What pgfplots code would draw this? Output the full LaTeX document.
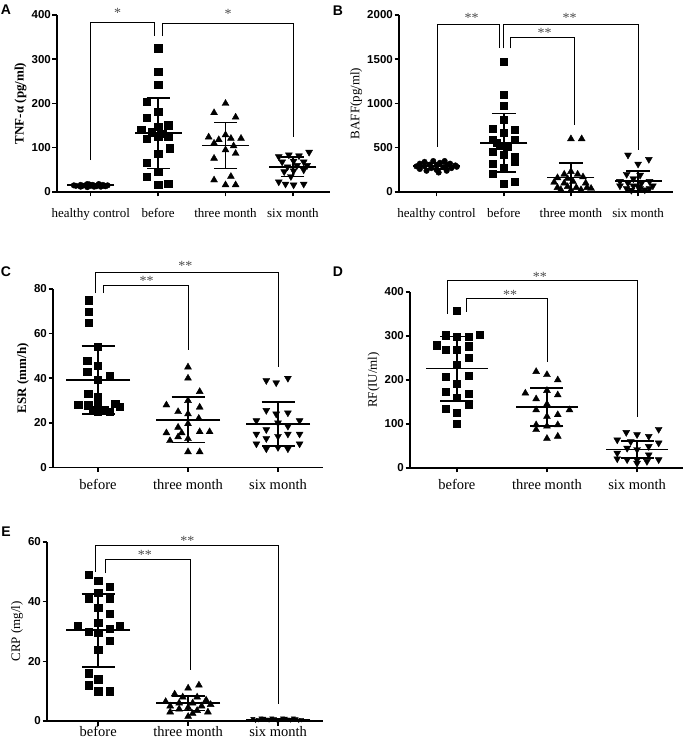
\documentclass[border=0pt]{standalone}
\usepackage{fontspec}
\setmainfont{Liberation Serif}
\setsansfont{Liberation Sans}
\usepackage{pgfplots}
\pgfplotsset{compat=1.18}

\tikzset{star/.style={font=\fontsize{14}{14}\selectfont, text=black!70, inner sep=0pt}}
\pgfplotsset{
  panel/.style={
    scale only axis, anchor=south west, clip=false,
    axis x line=bottom, axis y line=left,
    axis line style={line width=1.8pt,-},
    every tick/.style={black, line width=1.5pt},
    major tick length=4.5pt,
    tick align=outside,
    ymin=0,
    scaled y ticks=false,
    /pgf/number format/assume math mode=true,
    /pgf/number format/1000 sep={},
    yticklabel style={font=\sffamily\bfseries\fontsize{11.5}{12}\selectfont, inner sep=1.5pt},
    ylabel style={font=\fontsize{13}{14}\selectfont},
  },
  row1/.style={xticklabel style={font=\fontsize{13}{14}\selectfont, yshift=-8pt}},
  row2/.style={xticklabel style={font=\fontsize{14.5}{15}\selectfont, yshift=-3.5pt}},
  row3/.style={xticklabel style={font=\fontsize{14.5}{15}\selectfont, yshift=0pt, inner sep=1pt}},
  sq/.style={only marks, mark=square*, mark size=3.6pt, mark options={fill=black, draw=black}},
  tri/.style={only marks, mark=triangle*, mark size=4pt, mark options={fill=black, draw=black}},
  itri/.style={only marks, mark=triangle*, mark size=4pt, mark options={fill=black, draw=black, rotate=180}},
  dot/.style={only marks, mark=*, mark size=2.8pt, mark options={fill=black, draw=black}},
  msd/.style 2 args={only marks, mark=-, mark size=#1, mark options={line width=1.8pt, black},
    error bars/.cd, y dir=both, y explicit,
    error bar style={line width=1.8pt, black},
    error mark options={rotate=90, mark size=#2, line width=1.8pt, black}},
  brk/.style={no marks, sharp plot, line width=1pt, black},
}

\begin{document}
\begin{tikzpicture}
\useasboundingbox (0pt,0pt) rectangle (684pt,743pt);

% ---------------- A ----------------
\begin{axis}[panel, row1, at={(57pt,551pt)}, width=273pt, height=177pt,
  xmin=-0.5, xmax=3.55, ymax=400, ytick={0,100,200,300,400},
  xtick={0,1,2,3}, xticklabels={healthy control,before,three month,six month},
  ylabel={\bfseries TNF-α (pg/ml)}]
\addplot[dot] coordinates {(-0.22,14)(-0.15,16)(-0.15,12)(-0.08,15)(-0.05,18)(-0.05,11)(0,14)(0.03,16)(0.05,12)(0.1,15)(0.12,18)(0.15,12)(0.2,14)(0.25,15)(-0.25,15)(0.18,16)(-0.12,14)(0.08,13)(-0.02,17)(0.22,13)};
\addplot[sq] coordinates {(1,325)(1,272)(1,242)(0.83,204)(1,181)(0.83,167)(1.15,151)(1,148)(0.75,140)(0.9,135)(1.07,132)(0.83,121)(1,125)(1.15,125)(1.17,99)(1,86)(0.83,66)(1,46)(0.83,35)(1,16)(1.15,18)};
\addplot[tri] coordinates {(2,200)(1.83,179)(2.15,169)(1.75,124)(2,129)(1.9,118)(2.08,121)(2.23,121)(1.83,110)(2.12,104)(2.15,87)(1.83,76)(2,95)(1.83,27)(2.08,35)(2,16)(2.15,16)};
\addplot[itri] coordinates {(2.79,80)(2.94,84)(3.09,82)(3.24,90)(2.84,68)(3.01,70)(3.16,68)(2.92,57)(3.06,60)(3.21,60)(2.87,46)(3.01,48)(3.16,50)(2.97,35)(2.79,23)(2.89,18)(3.01,16)(3.16,18)};
\addplot[msd={23.5pt}{11.5pt}] coordinates {(0,15) +- (0,3) (1,133) +- (0,80) (2,105) +- (0,52) (3,57) +- (0,22)};
\addplot[brk] coordinates {(0,72)(0,383)(0.95,383)(0.95,352)};
\addplot[brk] coordinates {(1.07,352)(1.07,380)(3.01,380)(3.01,124)};
\node[star] at (axis cs:0.4,405) {*};
\node[star] at (axis cs:2.04,402) {*};
\end{axis}

% ---------------- B ----------------
\begin{axis}[panel, row1, at={(399pt,551pt)}, width=274pt, height=177pt,
  xmin=-0.56, xmax=3.52, ymax=2000, ytick={0,500,1000,1500,2000},
  xtick={0,1,2,3}, xticklabels={healthy control,before,three month,six month},
  ylabel={BAFF(pg/ml)}]
\addplot[dot] coordinates {(-0.3,290)(-0.25,320)(-0.25,260)(-0.18,340)(-0.18,290)(-0.15,240)(-0.1,310)(-0.08,270)(-0.05,350)(0,300)(0,250)(0.03,220)(0.05,330)(0.1,280)(0.12,350)(0.15,300)(0.15,240)(0.2,320)(0.22,270)(0.28,300)(0.3,285)};
\addplot[sq] coordinates {(1,1472)(1,1096)(1,975)(1,814)(0.84,719)(1.16,708)(1,670)(1.16,595)(0.84,588)(0.94,520)(1.06,512)(0.84,455)(1,418)(1.16,399)(0.84,316)(1.16,340)(1,268)(0.84,211)(1,98)(1.16,116)(0.9,560)};
\addplot[tri] coordinates {(2,600)(2.16,600)(2,230)(1.9,200)(2.1,200)(1.8,160)(1.95,150)(2.18,170)(1.75,110)(1.9,100)(2.03,120)(2.22,100)(1.8,50)(1.95,60)(2.08,50)(2.24,50)(1.85,25)(2,20)(2.15,25)(2.3,40)};
\addplot[itri] coordinates {(2.85,418)(3.16,369)(3,316)(2.83,200)(3.03,190)(2.93,150)(2.73,120)(3.17,120)(2.85,100)(3.05,100)(2.73,70)(2.93,70)(3.22,70)(2.83,40)(3.03,40)(3.17,40)(2.9,20)(3.1,25)(3,60)};
\addplot[msd={23.5pt}{12pt}] coordinates {(0,295) +- (0,35) (1,556) +- (0,330) (2,163) +- (0,161) (3,128) +- (0,113)};
\addplot[brk] coordinates {(0.02,509)(0.02,1898)(0.93,1898)(0.93,1624)};
\addplot[brk] coordinates {(1,1624)(1,1898)(3.01,1898)(3.01,472)};
\addplot[brk] coordinates {(1.1,1624)(1.1,1744)(2.06,1744)(2.06,755)};
\node[star] at (axis cs:0.52,1970) {**};
\node[star] at (axis cs:1.98,1963) {**};
\node[star] at (axis cs:1.61,1800) {**};
\end{axis}

% ---------------- C ----------------
\begin{axis}[panel, row2, at={(53pt,275.5pt)}, width=270pt, height=178.5pt,
  xmin=-0.5, xmax=2.5, ymax=80, ytick={0,20,40,60,80},
  xtick={0,1,2}, xticklabels={before,three month,six month},
  ylabel={\bfseries ESR (mm/h)}]
\addplot[sq] coordinates {(-0.1,75)(-0.1,70)(-0.1,65)(0,54)(-0.12,48)(0,45.5)(-0.12,43)(0.13,41)(0,39.4)(-0.11,33)(0,31.6)(-0.22,28.3)(-0.11,27.9)(0,28.6)(0.19,28.6)(0.24,27.1)(-0.06,26)(0.07,26)(0,25)(0.13,25)};
\addplot[tri] coordinates {(1,45)(1,40)(1.13,34)(1,30)(0.76,28)(0.89,25)(1.13,27)(1,24)(1.12,22)(1,19.6)(0.89,18)(0.76,15.5)(0.93,15.5)(1.13,16)(1.24,16)(0.89,13.7)(1,12.9)(0.8,12)(1,7)(1.13,7)};
\addplot[itri] coordinates {(1.87,39)(1.98,38)(2.11,40)(1.87,25.6)(1.98,24)(2.11,24.5)(1.76,21)(2.24,21)(2,20)(1.87,17)(2.11,18.5)(1.76,15)(2.24,15)(1.87,13)(2,14)(2.11,15)(1.76,10.6)(2.24,10.6)(2,9)(1.87,8.4)(2.11,8.4)};
\addplot[msd={32pt}{16.5pt}] coordinates {(0,39.1) +- (0,15.3) (1,21.4) +- (0,10.2) (2,19.6) +- (0,9.9)};
\addplot[brk] coordinates {(-0.03,78.1)(-0.03,87.6)(2.01,87.6)(2.01,45.1)};
\addplot[brk] coordinates {(0.06,78.1)(0.06,81.4)(1,81.4)(1,52.6)};
\node[star] at (axis cs:0.97,90.2) {**};
\node[star] at (axis cs:0.54,83.4) {**};
\end{axis}

% ---------------- D ----------------
\begin{axis}[panel, row2, at={(410pt,275pt)}, width=273pt, height=176pt,
  xmin=-0.52, xmax=2.51, ymax=400, ytick={0,100,200,300,400},
  xtick={0,1,2}, xticklabels={before,three month,six month},
  ylabel={RF(IU/ml)}]
\addplot[sq] coordinates {(0,358)(-0.12,302)(0,298)(0.13,298)(0.25,303)(-0.22,279)(0.13,277)(-0.12,268)(0,268)(0.13,250)(0,235)(-0.12,208)(0.13,210)(0,191)(-0.12,174)(0.13,168)(0,159)(0.13,145)(-0.12,135)(0,125)(0,100)};
\addplot[tri] coordinates {(0.88,219)(1,212)(1.12,200)(1,176)(0.76,170)(1.12,166)(0.88,157)(1,145)(0.88,132)(1.25,132)(1.12,121)(1,117)(0.88,98)(1,95)(0.88,87)(1.12,98)(1,67)(1.12,72)};
\addplot[itri] coordinates {(2.24,88)(1.88,81)(2,76)(2.13,72)(1.78,64)(1.93,60)(2.24,57)(2.13,49)(1.89,45)(2,42)(1.78,34)(2.13,30)(1.78,21)(1.89,19)(2,19)(2.24,19)(2.11,15)(2,11)};
\addplot[msd={31pt}{16.5pt}] coordinates {(0,226) +- (0,73) (1,139) +- (0,43) (2,42) +- (0,20)};
\addplot[brk] coordinates {(-0.1,351)(-0.1,425)(2,425)(2,117)};
\addplot[brk] coordinates {(0.11,355)(0.11,386)(1.01,386)(1.01,240)};
\node[star] at (axis cs:0.92,434) {**};
\node[star] at (axis cs:0.59,394) {**};
\end{axis}

% ---------------- E ----------------
\begin{axis}[panel, row3, at={(47pt,22pt)}, width=276pt, height=179pt,
  xmin=-0.57, xmax=2.5, ymax=60, ytick={0,20,40,60},
  xtick={0,1,2}, xticklabels={before,three month,six month},
  ylabel={CRP (mg/l)}]
\addplot[sq] coordinates {(-0.11,49)(0,47)(0.13,45)(0,43)(-0.11,41)(0.13,41)(0,38)(0.13,36)(0,33)(-0.23,32)(0.24,32)(-0.11,30)(0,29.5)(0.13,31)(0.13,27)(0,24)(-0.11,16)(0,14)(-0.11,12)(0,10)(0.13,10)};
\addplot[tri] coordinates {(1.12,12)(1,11)(0.85,9)(0.94,8)(1.1,8)(1.2,7)(0.75,6.5)(0.9,6)(1.05,6)(1.25,5.5)(0.8,5)(1.15,5)(1,4.5)(0.9,4)(1.1,3.5)(0.8,3)(1.22,3)(1.05,2.5)(1,1.5)};
\addplot[itri, mark size=2.5pt] coordinates {(1.72,0.8)(1.78,0.5)(1.84,0.9)(1.9,0.4)(1.96,0.7)(2.02,0.5)(2.08,0.9)(2.14,0.4)(2.2,0.7)(2.26,0.5)(1.75,0.3)(1.87,0.6)(1.99,0.3)(2.11,0.6)(2.23,0.3)(1.81,1.0)(1.93,1.0)(2.05,1.0)(2.17,1.0)};
\addplot[msd={32pt}{16.5pt}] coordinates {(0,30.4) +- (0,12.3) (1,5.9) +- (0,2.4) (2,0.5) +- (0,0.3)};
\addplot[brk] coordinates {(-0.03,50.1)(-0.03,58.9)(2.01,58.9)(2.01,5.6)};
\addplot[brk] coordinates {(0.08,49.6)(0.08,54.1)(1.03,54.1)(1.03,17)};
\node[star] at (axis cs:0.99,60.4) {**};
\node[star] at (axis cs:0.52,55.7) {**};
\end{axis}

% panel letters
\node[font=\sffamily\bfseries\fontsize{14}{14}\selectfont] at (6pt,733pt) {A};
\node[font=\sffamily\bfseries\fontsize{14}{14}\selectfont] at (338pt,732pt) {B};
\node[font=\sffamily\bfseries\fontsize{14}{14}\selectfont] at (6pt,471pt) {C};
\node[font=\sffamily\bfseries\fontsize{14}{14}\selectfont] at (338pt,471pt) {D};
\node[font=\sffamily\bfseries\fontsize{14}{14}\selectfont] at (6pt,211pt) {E};
\end{tikzpicture}
\end{document}
